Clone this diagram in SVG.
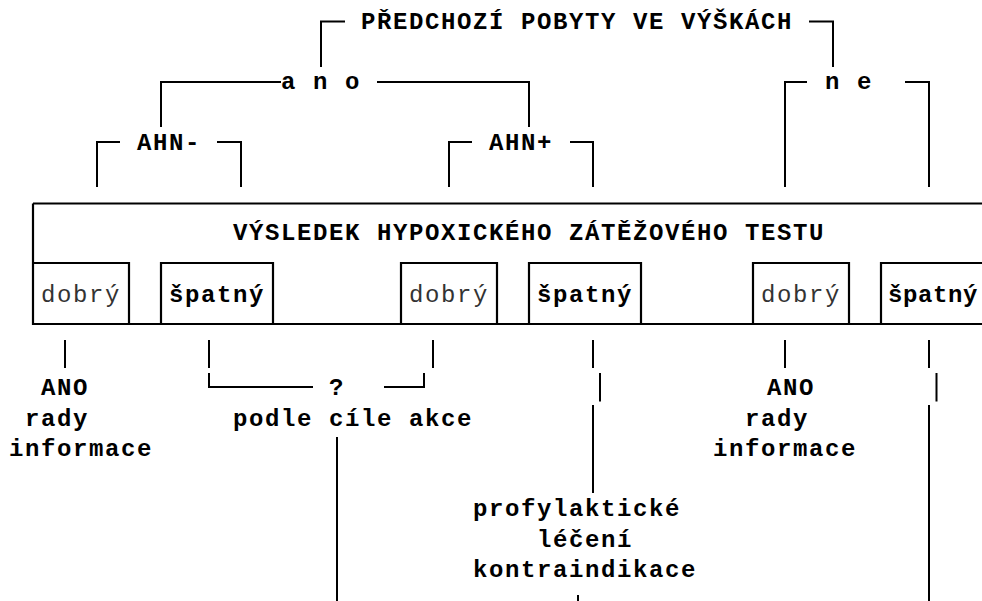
<svg xmlns="http://www.w3.org/2000/svg" width="982" height="601" viewBox="0 0 982 601">
<style>
  .c { fill: none; stroke: #000; stroke-width: 2; }
  .b { fill: none; stroke: #000; stroke-width: 2.2; }
  text { font-family: "Liberation Mono", "DejaVu Sans Mono", monospace; font-size: 24px; letter-spacing: 1.6px; fill: #000; }
  .bold { font-weight: bold; }
  .reg { font-weight: normal; fill: #333; }
</style>
<rect width="982" height="601" fill="#fff"/>
<g id="connectors">
  <path class="c" d="M321,67 V21.5 H345"/>
  <path class="c" d="M809,21.5 H833 V67"/>
  <path class="c" d="M161,127 V82 H281"/>
  <path class="c" d="M377,82 H529 V127"/>
  <path class="c" d="M785,187 V82 H807"/>
  <path class="c" d="M905,82 H929 V187"/>
  <path class="c" d="M97,187 V142 H120"/>
  <path class="c" d="M217,142 H241 V187"/>
  <path class="c" d="M449,187 V142 H472"/>
  <path class="c" d="M570,142 H593 V187"/>
  <path class="c" d="M65,340 V368"/>
  <path class="c" d="M209,340 V368 M209,373 V387 H313"/>
  <path class="c" d="M384,387 H424 V373"/>
  <path class="c" d="M433,340 V368"/>
  <path class="c" d="M593,340 V368 M600,373 V401.5 M593,405 V493"/>
  <path class="c" d="M578,595 V601"/>
  <path class="c" d="M337,437 V601"/>
  <path class="c" d="M785,340 V368"/>
  <path class="c" d="M929,340 V368 M936.5,373 V401.5 M929,405 V601"/>
</g>
<g id="header">
  <text class="bold" x="361" y="28.5">PŘEDCHOZÍ POBYTY VE VÝŠKÁCH</text>
</g>
<g id="ano"><text class="bold" x="281" y="89">a n o</text></g>
<g id="ne"><text class="bold" x="825" y="89">n e</text></g>
<g id="ahn-minus"><text class="bold" x="137" y="149.5">AHN-</text></g>
<g id="ahn-plus"><text class="bold" x="489" y="149.5">AHN+</text></g>
<g id="test">
  <path class="b" d="M33,203.5 H990 M33,203.5 V324 H990"/>
  <text class="bold" x="233" y="240">VÝSLEDEK HYPOXICKÉHO ZÁTĚŽOVÉHO TESTU</text>
</g>
<g id="r1"><path class="b" d="M33,263 H129 V324"/><text class="reg" x="41" y="301.5">dobrý</text></g>
<g id="r2"><path class="b" d="M161,324 V263 H273 V324"/><text class="bold" x="169" y="301.5">špatný</text></g>
<g id="r3"><path class="b" d="M401,324 V263 H497 V324"/><text class="reg" x="409" y="301.5">dobrý</text></g>
<g id="r4"><path class="b" d="M529,324 V263 H641 V324"/><text class="bold" x="537" y="301.5">špatný</text></g>
<g id="r5"><path class="b" d="M753,324 V263 H849 V324"/><text class="reg" x="761" y="301.5">dobrý</text></g>
<g id="r6"><path class="b" d="M881,324 V263 H990"/><text class="bold" x="888" y="301.5" style="letter-spacing:0.6px">špatný</text></g>
<g id="out1">
  <text class="bold" x="41" y="395">ANO</text>
  <text class="bold" x="25" y="426">rady</text>
  <text class="bold" x="9" y="456">informace</text>
</g>
<g id="out2">
  <text class="bold" x="329" y="395">?</text>
  <text class="bold" x="233" y="426">podle cíle akce</text>
</g>
<g id="out3">
  <text class="bold" x="473" y="516">profylaktické</text>
  <text class="bold" x="537" y="546.5">léčení</text>
  <text class="bold" x="473" y="576.5">kontraindikace</text>
</g>
<g id="out4">
  <text class="bold" x="767" y="395">ANO</text>
  <text class="bold" x="745" y="426">rady</text>
  <text class="bold" x="713" y="456">informace</text>
</g>
</svg>
